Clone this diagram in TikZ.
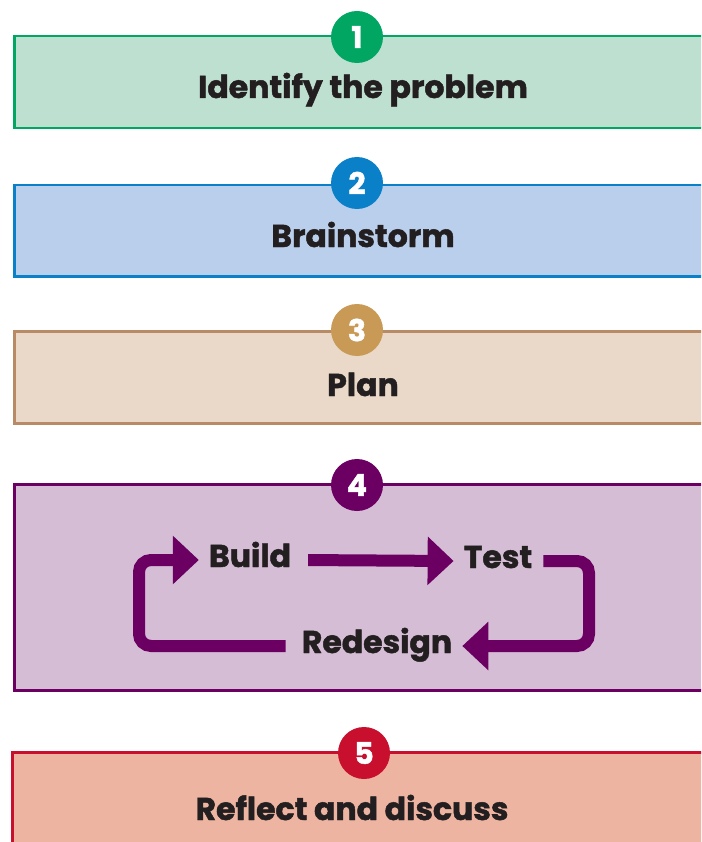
\documentclass[tikz,border=0pt]{standalone}
\usepackage{fontspec}
\setmainfont{Poppins}[BoldFeatures={FakeBold=1.5}]
\usetikzlibrary{arrows.meta,positioning}
\definecolor{ink}{HTML}{231F20}
\definecolor{greenfill}{HTML}{BEE0D0}
\definecolor{greenline}{HTML}{00A661}
\definecolor{bluefill}{HTML}{B9CFEC}
\definecolor{blueline}{HTML}{0A80C8}
\definecolor{tanfill}{HTML}{EAD8C8}
\definecolor{tanline}{HTML}{B98A66}
\definecolor{tandot}{HTML}{C89A55}
\definecolor{purpfill}{HTML}{D5BDD5}
\definecolor{purpline}{HTML}{6B0062}
\definecolor{redfill}{HTML}{EEB4A2}
\definecolor{redline}{HTML}{C8102E}

\begin{document}
\begin{tikzpicture}[x=1pt,y=-1pt,
  step box/.style={rectangle,line width=2.5pt,minimum width=720pt,anchor=north west,inner sep=0pt},
  step num/.style={circle,minimum size=52pt,inner sep=0pt,text=white,font=\bfseries\fontsize{30}{30}\selectfont},
  step text/.style={anchor=base,text=ink,font=\bfseries\fontsize{31.5}{32}\selectfont},
  cycle text/.style={anchor=base,text=ink,inner sep=10pt,text height=14pt,text depth=0pt,font=\bfseries\fontsize{31.5}{32}\selectfont},
  cycle arrow/.style={draw=purpline,line width=12pt,rounded corners=12pt,-{Triangle[length=26pt,width=47pt]}}]
\useasboundingbox (0,0) rectangle (701,842);
\clip (0,0) rectangle (701,842);

% step 1
  \node[step box,draw=greenline,fill=greenfill,minimum height=92pt] (box1) at (13,35) {};
  \node[step num,fill=greenline] (num1) at (357,37) {1};
  \node[step text] (txt1) at (363,98) {Identify the problem};

% step 2
  \node[step box,draw=blueline,fill=bluefill,minimum height=91pt] (box2) at (13,184) {};
  \node[step num,fill=blueline] (num2) at (357,183) {2};
  \node[step text] (txt2) at (363,247) {Brainstorm};

% step 3
  \node[step box,draw=tanline,fill=tanfill,minimum height=92pt] (box3) at (13,330) {};
  \node[step num,fill=tandot] (num3) at (357,330) {3};
  \node[step text] (txt3) at (363,396) {Plan};

% step 4 with the build / test cycle
  \node[step box,draw=purpline,fill=purpfill,minimum height=206pt] (box4) at (13,483) {};
  \node[step num,fill=purpline] (num4) at (357,485) {4};

  \node[cycle text] (build) at (250,567) {Build};
  \node[cycle text] (test) at (498,568) {Test};
  \node[cycle text] (redesign) at (377,653) {Redesign};
  \coordinate (leftturn) at (139,0);
  \coordinate (rightturn) at (589,0);

  \draw[cycle arrow,shorten <=7pt] (build.east) -- (test.west);
  \draw[cycle arrow,shorten <=1pt,shorten >=0pt] (test.east) -| (rightturn |- redesign.east) -- (redesign.east);
  \draw[cycle arrow,shorten <=6pt] (redesign.west) -| (leftturn |- build.west) -- (build.west);

% step 5
  \node[step box,draw=redline,fill=redfill,minimum height=120pt] (box5) at (11,751) {};
  \node[step num,fill=redline] (num5) at (364,753) {5};
  \node[step text] (txt5) at (352,820) {Reflect and discuss};

\end{tikzpicture}
\end{document}
